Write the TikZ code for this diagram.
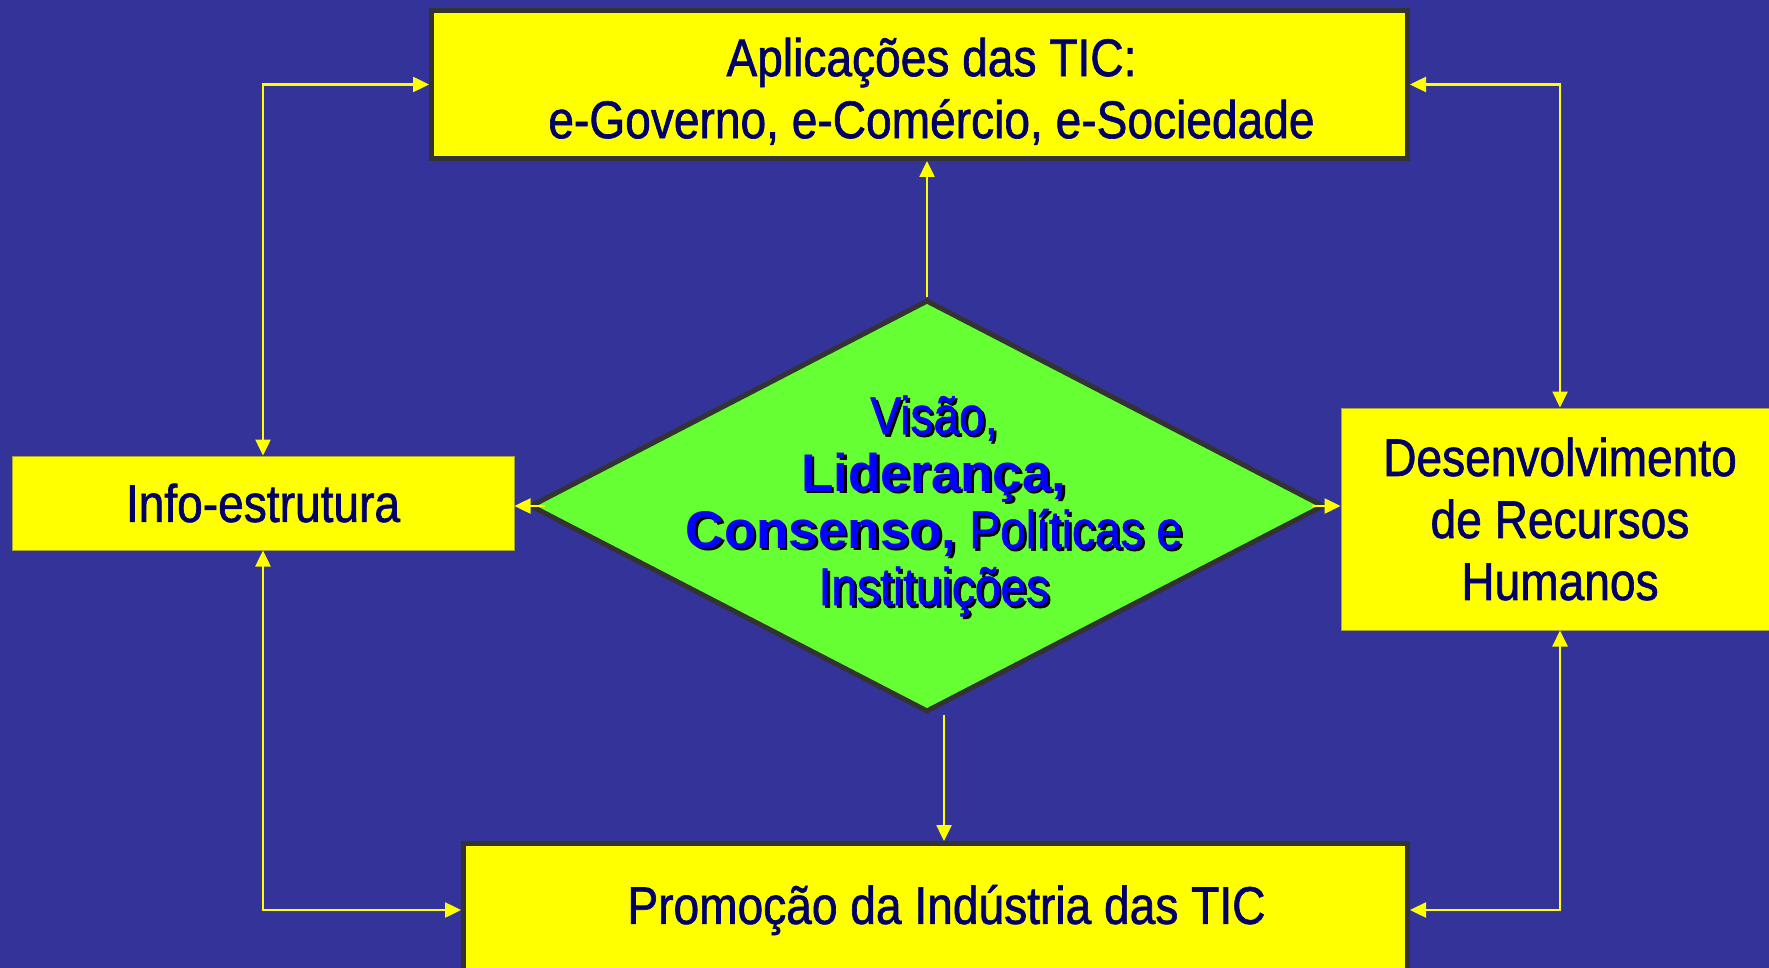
\documentclass[tikz,border=0pt]{standalone}
\usepackage{fontspec}
\setmainfont{Liberation Sans}[FakeStretch=0.87,FakeBold=1.2]
\newfontfamily\widefont{Liberation Sans}
\usetikzlibrary{arrows.meta,shapes.geometric}
\definecolor{bgblue}{HTML}{333399}
\definecolor{boxyellow}{HTML}{FFFF00}
\definecolor{diagreen}{HTML}{66FF33}
\definecolor{darkborder}{HTML}{333333}
\definecolor{thinborder}{HTML}{A8A830}
\definecolor{navytext}{HTML}{000066}
\definecolor{diatextblue}{HTML}{0000FF}
\definecolor{connyellow}{HTML}{FFFF00}
\newcommand\diacontent{Visão,\\{\widefont\bfseries Liderança,}\\{\widefont\bfseries Consenso,} Políticas e\\Instituições}
\newcommand\myrightshift{\hspace*{24pt}}
\tikzset{
  boxbase/.style={rectangle, fill=boxyellow, inner sep=0pt, align=center,
    text=navytext, font=\fontsize{53}{62}\selectfont},
  thickbox/.style={boxbase, draw=darkborder, line width=5pt},
  thinbox/.style={boxbase, draw=thinborder, line width=1pt},
  diashape/.style={diamond, fill=diagreen, draw=darkborder, line width=5pt,
    inner sep=0pt, minimum width=794pt, minimum height=412pt},
  diafont/.style={align=center, font=\fontsize{53}{57}\selectfont, inner sep=0pt},
  conn/.style={draw=connyellow, line width=2.5pt,
    arrows={-Triangle[length=16pt,width=15pt]}},
  conn2/.style={draw=connyellow, line width=2.5pt,
    arrows={Triangle[length=16pt,width=15pt]-Triangle[length=16pt,width=15pt]}}
}
\begin{document}
\begin{tikzpicture}[x=1pt,y=-1pt]
\fill[bgblue] (0,0) rectangle (1769,968);
\useasboundingbox (0,0) rectangle (1769,968);
% boxes
\node[thickbox, minimum width=976pt, minimum height=148pt] (top) at (919.5,84.5)
  {\rule{0pt}{52pt}\myrightshift Aplicações das TIC:\\\myrightshift e-Governo, e-Comércio, e-Sociedade};
\node[thinbox, minimum width=502pt, minimum height=94pt] (info) at (263,503)
  {Info-estrutura};
\node[thinbox, minimum width=438pt, minimum height=222pt] (desenv) at (1560,519)
  {Desenvolvimento\\de Recursos\\Humanos};
\node[thickbox, minimum width=944pt, minimum height=133pt] (bottom) at (935.5,910)
  {\hspace*{22pt}Promoção da Indústria das TIC};
% diamond
\node[diashape] (dia) at (927,506) {};
\node[diafont, text=black] (diashadow) at (936.5,508.5) {\diacontent};
\node[diafont, text=diatextblue] (diatext) at (934,506) {\diacontent};
% connectors
\draw[conn2] (info.north) |- (top.west);
\draw[conn2] (desenv.north) |- (top.east);
\draw[conn2] (info.south) |- (bottom.west);
\draw[conn2] (desenv.south) |- (bottom.east);
\draw[conn] (dia.north) -- (dia.north |- top.south);
\draw[conn] ([xshift=17pt]dia.south) -- ([xshift=17pt]dia.south |- bottom.north);
\draw[conn] ([xshift=17pt]dia.west) -- (info.east |- dia.west);
\draw[conn] ([xshift=-15pt]dia.east) -- (desenv.west |- dia.east);
\end{tikzpicture}
\end{document}
